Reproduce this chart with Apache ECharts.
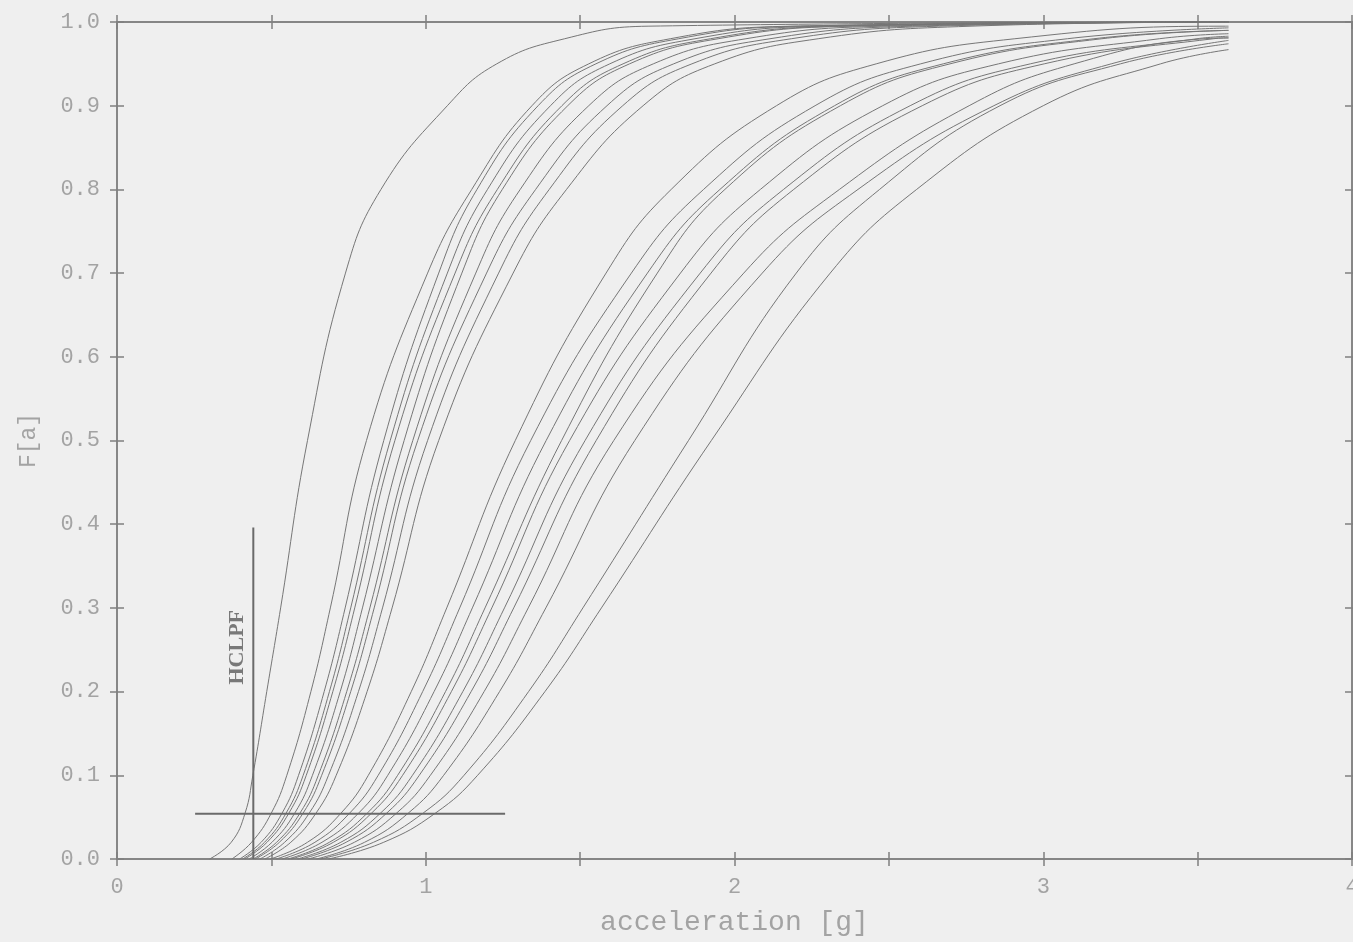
<!DOCTYPE html>
<html><head><meta charset="utf-8">
<script src="https://cdn.jsdelivr.net/npm/echarts@6/dist/echarts.min.js"></script>
<style>html,body{margin:0;padding:0;background:#efefef;overflow:hidden;width:1353px;height:942px;}#c{position:absolute;left:0;top:0;width:1353px;height:942px;}</style>
</head><body><div id="c"></div>
<script>
// Probability levels at which each curve's acceleration is read
const LEVELS = [0, 0.02, 0.055, 0.1, 0.2, 0.3, 0.5, 0.7, 0.8, 0.9, 0.95, 0.98, 0.995];
const X_END = 3.6;
// Accelerations [g] of each fragility curve at LEVELS (null = beyond plotted range)
const L1  = [0.30, 0.37, 0.415, 0.44, 0.485, 0.53, 0.617, 0.74, 0.855, 1.07, 1.23, 1.45, 1.72];
const L2  = [0.372, 0.436, 0.50, 0.55, 0.628, 0.691, 0.808, 1.006, 1.149, 1.344, 1.528, 1.792, 2.183];
const L3  = [0.397, 0.467, 0.535, 0.588, 0.671, 0.739, 0.864, 1.042, 1.166, 1.364, 1.551, 1.819, 2.215];
const L4  = [0.407, 0.478, 0.548, 0.603, 0.688, 0.757, 0.885, 1.070, 1.20, 1.404, 1.596, 1.872, 2.28];
const L5  = [0.414, 0.486, 0.557, 0.613, 0.699, 0.770, 0.90, 1.095, 1.232, 1.441, 1.639, 1.922, 2.341];
const L6  = [0.428, 0.502, 0.576, 0.633, 0.723, 0.795, 0.93, 1.117, 1.248, 1.46, 1.66, 1.947, 2.371];
const L7  = [0.441, 0.517, 0.593, 0.652, 0.744, 0.819, 0.958, 1.162, 1.306, 1.528, 1.737, 2.037, 2.481];
const L8  = [0.448, 0.526, 0.603, 0.663, 0.757, 0.833, 0.974, 1.197, 1.356, 1.587, 1.803, 2.115, 2.576];
const L9  = [0.463, 0.543, 0.623, 0.685, 0.782, 0.86, 1.006, 1.236, 1.40, 1.638, 1.862, 2.184, 2.66];
const L10 = [0.479, 0.563, 0.645, 0.71, 0.81, 0.891, 1.042, 1.283, 1.456, 1.704, 1.936, 2.271, 2.766];
const R1  = [0.497, 0.617, 0.726, 0.814, 0.953, 1.068, 1.29, 1.584, 1.795, 2.136, 2.459, 2.908, 3.59];
const R2  = [0.516, 0.641, 0.754, 0.846, 0.99, 1.11, 1.34, 1.666, 1.90, 2.261, 2.603, 3.078, null];
const R3  = [0.535, 0.664, 0.783, 0.877, 1.027, 1.151, 1.39, 1.718, 1.953, 2.324, 2.676, 3.164, null];
const R4  = [0.554, 0.688, 0.811, 0.909, 1.064, 1.192, 1.44, 1.75, 1.969, 2.343, 2.698, 3.19, null];
const R5  = [0.564, 0.701, 0.825, 0.925, 1.083, 1.214, 1.466, 1.825, 2.084, 2.48, 2.855, 3.376, null];
const R6  = [0.584, 0.725, 0.854, 0.957, 1.12, 1.255, 1.516, 1.889, 2.159, 2.569, 2.958, 3.498, null];
const R7  = [0.598, 0.742, 0.874, 0.979, 1.147, 1.285, 1.552, 1.924, 2.192, 2.608, 3.003, 3.551, null];
const R8  = [0.619, 0.769, 0.906, 1.015, 1.189, 1.332, 1.609, 2.03, 2.34, 2.76, 3.10, 3.52, null];
const R9  = [0.646, 0.802, 0.944, 1.058, 1.239, 1.389, 1.677, 2.09, 2.40, 2.84, 3.22, null, null];
const R10 = [0.659, 0.831, 0.992, 1.124, 1.333, 1.509, 1.851, 2.20, 2.47, 2.86, 3.25, null, null];
const R11 = [0.685, 0.864, 1.032, 1.168, 1.386, 1.569, 1.925, 2.31, 2.59, 3.00, 3.38, null, null];
const CURVES = [L1, L2, L3, L4, L5, L6, L7, L8, L9, L10, R1, R2, R3, R4, R5, R6, R7, R8, R9, R10, R11];
// F value of each curve at X_END
const END_F = [1.0, 1.0, 1.0, 1.0, 1.0, 1.0, 1.0, 1.0, 1.0, 1.0, 0.995, 0.993, 0.99, 0.99, 0.986, 0.983, 0.981, 0.981, 0.978, 0.974, 0.967];
// HCLPF marker lines
const HCLPF_V = [[0.4415, 0], [0.4415, 0.396]];
const HCLPF_H = [[0.253, 0.054], [1.257, 0.054]];
const HCLPF_LABEL = [0.389, 0.253];
const X_TICK_LABELS = ['0', '1', '2', '3', '4'];

const chart = echarts.init(document.getElementById('c'), null, {renderer: 'canvas', width: 1353, height: 942});
const lineColor = '#767676';
const axisColor = '#808080';
const labelFont = {color: '#a3a3a3', fontFamily: 'Liberation Mono', fontSize: 22};

const series = CURVES.map((xs, i) => {
  const data = [];
  LEVELS.forEach((f, k) => { if (xs[k] !== null) data.push([xs[k], f]); });
  data.push([X_END, END_F[i]]);
  return {type: 'line', data, showSymbol: false, smooth: 0.45,
    lineStyle: {color: lineColor, width: 1}, silent: true, z: 3};
});
series.push({type: 'line', data: HCLPF_V, showSymbol: false, lineStyle: {color: '#6a6a6a', width: 2}, z: 4});
series.push({type: 'line', data: HCLPF_H, showSymbol: false, lineStyle: {color: '#6a6a6a', width: 2}, z: 4});
series.push({type: 'scatter', data: [HCLPF_LABEL], symbolSize: 0,
  label: {show: true, formatter: 'HCLPF', rotate: 90, position: 'inside',
    fontFamily: 'Liberation Serif', fontWeight: 'bold', fontSize: 22, color: '#5a5a5a'}, z: 5});

function xAx(pos, inside, labels) {
  return {type: 'value', min: 0, max: 4, interval: 0.5, position: pos,
    axisLine: {show: true, onZero: false, lineStyle: {color: axisColor, width: 1.5}},
    axisTick: {show: true, inside, length: 7, lineStyle: {color: axisColor, width: 1.5}},
    axisLabel: labels ? Object.assign({show: true, margin: 17,
      formatter: v => (Math.abs(v - Math.round(v)) < 1e-9 ? X_TICK_LABELS[Math.round(v)] : '')}, labelFont) : {show: false},
    splitLine: {show: false},
    name: labels ? 'acceleration [g]' : '', nameLocation: 'middle', nameGap: 50,
    nameTextStyle: Object.assign({}, labelFont, {fontSize: 28})};
}
function yAx(pos, inside, labels) {
  return {type: 'value', min: 0, max: 1, interval: 0.1, position: pos,
    axisLine: {show: true, onZero: false, lineStyle: {color: axisColor, width: 1.5}},
    axisTick: {show: true, inside, length: 7, lineStyle: {color: axisColor, width: 1.5}},
    axisLabel: labels ? Object.assign({show: true, margin: 17, formatter: v => v.toFixed(1)}, labelFont) : {show: false},
    splitLine: {show: false},
    name: labels ? 'F[a]' : '', nameLocation: 'middle', nameGap: 77, nameRotate: 90,
    nameTextStyle: Object.assign({}, labelFont, {fontSize: 23})};
}

chart.setOption({
  backgroundColor: '#efefef',
  animation: false,
  grid: {left: 117, right: 1, top: 22, bottom: 83, containLabel: false, outerBoundsMode: 'none'},
  xAxis: [xAx('bottom', false, true), xAx('bottom', true, false), xAx('top', false, false), xAx('top', true, false)],
  yAxis: [yAx('left', false, true), yAx('left', true, false), yAx('right', false, false), yAx('right', true, false)],
  series
});
</script></body></html>
